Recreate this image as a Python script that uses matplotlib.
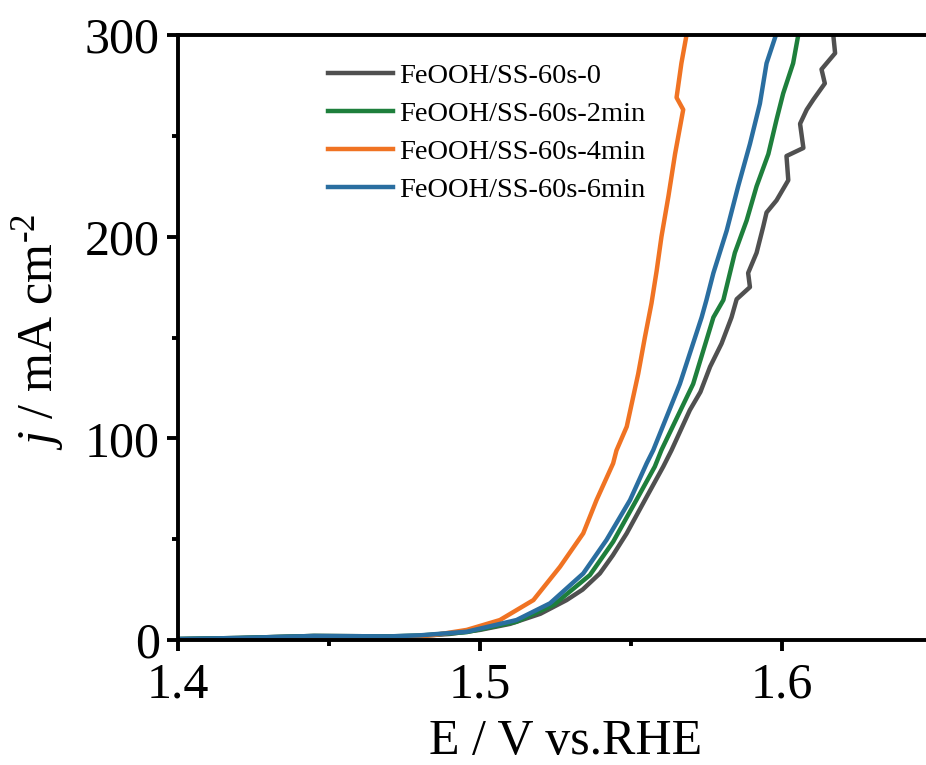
import matplotlib
matplotlib.use("Agg")
import matplotlib.pyplot as plt
from matplotlib.ticker import MultipleLocator

plt.rcParams['font.family'] = ['Liberation Serif', 'DejaVu Serif']
plt.rcParams['mathtext.fontset'] = 'custom'
plt.rcParams['mathtext.rm'] = 'Liberation Serif'
plt.rcParams['mathtext.it'] = 'Liberation Serif:italic'

labels = ["FeOOH/SS-60s-0", "FeOOH/SS-60s-2min", "FeOOH/SS-60s-4min", "FeOOH/SS-60s-6min"]
colors = ["#505050", "#1e7f3c", "#f07323", "#2a6ea0"]

E_0 = [1.400, 1.420, 1.445, 1.470, 1.480, 1.490, 1.500, 1.510, 1.520, 1.5287, 1.5340, 1.5397,
       1.5440, 1.5486, 1.5552, 1.5607, 1.5634, 1.5695, 1.5730, 1.5762, 1.5800, 1.5833, 1.5850,
       1.5894, 1.5888, 1.5916, 1.5938, 1.5949, 1.5982, 1.6021, 1.6015, 1.6071, 1.6060, 1.6082,
       1.6104, 1.6142, 1.6131, 1.6176, 1.6170]
j_0 = [0.5, 1.0, 2.0, 1.8, 2.0, 3.0, 5.0, 8.0, 13.0, 19.8, 25.0, 33.0,
       42.0, 52.9, 71.0, 86.0, 94.0, 114.0, 123.0, 135.5, 147.0, 160.0, 169.0,
       175.0, 182.0, 192.0, 205.0, 212.0, 218.0, 228.0, 240.0, 244.0, 256.0, 263.0,
       268.0, 276.0, 283.0, 291.0, 300.0]

E_2 = [1.400, 1.420, 1.445, 1.470, 1.480, 1.4956, 1.5120, 1.5245, 1.5364, 1.5441, 1.5518, 1.5579,
       1.5601, 1.5706, 1.5773, 1.5806, 1.5844, 1.5883, 1.5916, 1.5955, 1.5982, 1.6004, 1.6037, 1.6054]
j_2 = [0.5, 1.0, 2.0, 1.8, 2.2, 3.9, 9.0, 17.5, 32.2, 48.7, 69.4, 86.0,
       94.2, 127.0, 160.0, 168.6, 192.0, 208.0, 225.0, 241.0, 258.0, 271.0, 286.0, 300.0]

E_4 = [1.400, 1.420, 1.445, 1.460, 1.475, 1.485, 1.4956, 1.5066, 1.5177, 1.5265, 1.5342, 1.5386,
       1.5441, 1.5452, 1.5486, 1.5524, 1.5546, 1.5568, 1.5585, 1.5601, 1.5624, 1.5646, 1.5673,
       1.5651, 1.5667, 1.5684]
j_4 = [0.3, 0.5, 1.0, 1.0, 1.3, 2.5, 5.0, 9.9, 19.8, 36.3, 52.9, 69.4,
       87.6, 94.0, 105.8, 132.0, 150.0, 167.0, 183.0, 200.0, 220.0, 241.0, 263.0,
       269.0, 286.0, 300.0]

E_6 = [1.400, 1.420, 1.445, 1.470, 1.480, 1.4956, 1.5121, 1.5232, 1.5342, 1.5419, 1.5497, 1.5552,
       1.5574, 1.5662, 1.5734, 1.5750, 1.5773, 1.5817, 1.5855, 1.5894, 1.5927, 1.5949, 1.5980]
j_6 = [0.5, 1.0, 2.0, 1.8, 2.3, 4.1, 9.9, 18.2, 33.0, 49.6, 69.4, 87.6,
       94.2, 127.0, 160.0, 168.6, 182.0, 203.0, 225.0, 246.0, 266.0, 286.0, 300.0]

series = [(E_0, j_0), (E_2, j_2), (E_4, j_4), (E_6, j_6)]

fig = plt.figure(figsize=(9.26, 7.65), dpi=100)
ax = fig.add_axes([0.1922, 0.1634, 0.8153, 0.7908])

for (E, j), lab, c in zip(series, labels, colors):
    ax.plot(E, j, color=c, lw=3.2, label=lab, solid_joinstyle='round')

ax.set_xlim(1.4, 1.65)
ax.set_ylim(0, 300)
ax.xaxis.set_major_locator(MultipleLocator(0.1))
ax.xaxis.set_minor_locator(MultipleLocator(0.05))
ax.yaxis.set_major_locator(MultipleLocator(100))
ax.yaxis.set_minor_locator(MultipleLocator(50))

for s in ax.spines.values():
    s.set_linewidth(2.8)
ax.spines['right'].set_visible(False)

ax.tick_params(which='major', direction='out', length=8, width=2.8, labelsize=36, pad=5)
ax.tick_params(axis='x', which='major', pad=8)
ax.tick_params(which='minor', direction='out', length=4, width=2.8)
ax.tick_params(top=False, right=False)
ax.set_xticklabels([], minor=True)

ax.set_xlabel("E / V vs.RHE", fontsize=36)
ax.set_ylabel(r"$\mathit{j}$ / mA cm$^{\text{-2}}$", fontsize=36)
ax.xaxis.set_label_coords(0.514, -0.13)
ax.yaxis.set_label_coords(-0.148, 0.51)

leg = ax.legend(loc='upper left', bbox_to_anchor=(0.183, 0.972), frameon=False,
                fontsize=20.5, handlelength=2.3, handletextpad=0.2, labelspacing=0.42,
                borderaxespad=0)

fig.savefig("out.png", dpi=100)
